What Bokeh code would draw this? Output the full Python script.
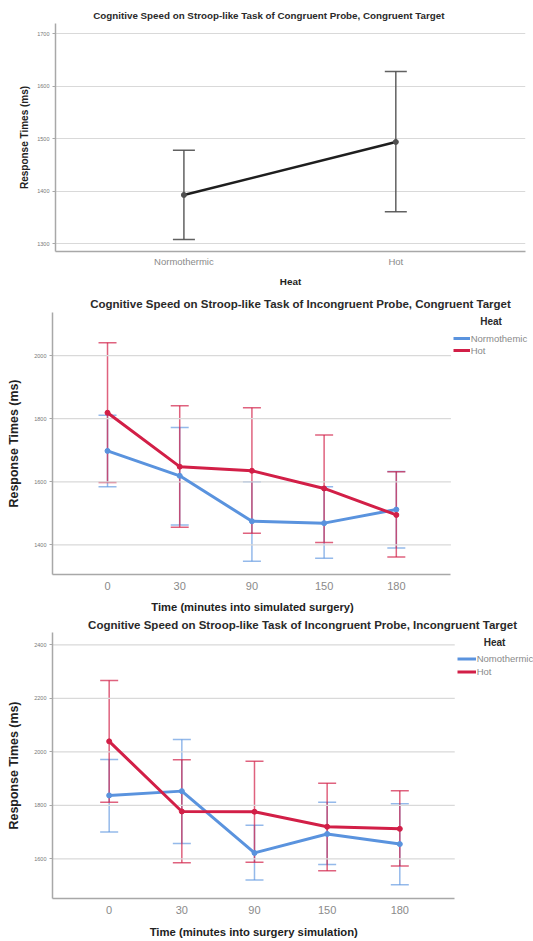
from bokeh.plotting import figure
from bokeh.models import (ColumnDataSource, Whisker, TeeHead, Label, Legend,
                          LegendItem, FixedTicker, Range1d)
from bokeh.embed import file_html
from bokeh.resources import INLINE

# ---- data -------------------------------------------------------------
heat_groups = ["Normothermic", "Hot"]
cc_mean = [1393, 1494]
cc_lower = [1308, 1361]
cc_upper = [1478, 1628]

time_points = ["0", "30", "90", "150", "180"]

# incongruent probe, congruent target
icn_norm_mean = [1698, 1619, 1475, 1469, 1512]
icn_norm_lower = [1584, 1463, 1348, 1358, 1390]
icn_norm_upper = [1811, 1772, 1600, 1584, 1633]
icn_hot_mean = [1819, 1648, 1635, 1579, 1495]
icn_hot_lower = [1598, 1456, 1437, 1408, 1362]
icn_hot_upper = [2041, 1841, 1835, 1748, 1632]

# incongruent probe, incongruent target
ii_norm_mean = [1837, 1853, 1622, 1693, 1655]
ii_norm_lower = [1700, 1657, 1521, 1579, 1503]
ii_norm_upper = [1971, 2046, 1725, 1811, 1806]
ii_hot_mean = [2039, 1777, 1776, 1720, 1712]
ii_hot_lower = [1811, 1585, 1587, 1555, 1573]
ii_hot_upper = [2267, 1970, 1965, 1882, 1854]

FONT = "Liberation Sans"
BLUE = "#5a93de"
RED = "#d21f47"
GRID = "#d9d9d9"
AXIS = "#a8a8a8"
NBSP = "\u00a0"


def base_figure(height, borders, x_range, x_axis_end, y_range, y_ticks,
                x_labels, title, title_size, title_offset, title_standoff,
                title_valign, x_title, tick_font, x_label_standoff,
                x_axis_standoff, label_size, y_axis_standoff):
    top, right, bottom, left = borders
    p = figure(width=533, height=height, output_backend="svg",
               toolbar_location=None, x_range=Range1d(*x_range),
               y_range=Range1d(*y_range), min_border_top=top,
               min_border_right=right, min_border_bottom=bottom,
               min_border_left=left)
    p.outline_line_color = None
    p.background_fill_color = "white"
    p.border_fill_color = "white"

    p.title.text = title
    p.title.align = "left"
    p.title.vertical_align = title_valign
    p.title.offset = title_offset
    p.title.standoff = title_standoff
    p.title.text_font = FONT
    p.title.text_font_size = title_size
    p.title.text_font_style = "bold"
    p.title.text_color = "#2a2a2a"

    p.xgrid.grid_line_color = None
    if x_axis_end is None:
        p.ygrid.grid_line_color = GRID
        p.ygrid.grid_line_width = 1.2
    else:
        # the frame reaches the right edge to hold the legend, so the
        # horizontal guides and the x axis stop at the last time point area
        p.ygrid.grid_line_color = None
        n = len(y_ticks)
        p.segment(x0=[x_range[0]] * n, x1=[x_axis_end] * n, y0=y_ticks,
                  y1=y_ticks, line_color=GRID, line_width=1.2)
        p.xaxis.bounds = (x_range[0], x_axis_end)

    p.xaxis.ticker = FixedTicker(ticks=list(range(len(x_labels))))
    p.xaxis.major_label_overrides = {i: t for i, t in enumerate(x_labels)}
    p.xaxis.major_tick_out = 0
    p.xaxis.major_tick_in = 0
    p.xaxis.minor_tick_line_color = None
    p.xaxis.axis_line_color = AXIS
    p.xaxis.axis_line_width = 1.5
    p.xaxis.major_label_text_font = FONT
    p.xaxis.major_label_text_font_size = tick_font
    p.xaxis.major_label_text_color = "#8a8a8a"
    p.xaxis.major_label_standoff = x_label_standoff
    p.xaxis.axis_label = x_title
    p.xaxis.axis_label_text_font = FONT
    p.xaxis.axis_label_text_font_style = "bold"
    p.xaxis.axis_label_text_font_size = label_size[0]
    p.xaxis.axis_label_text_color = "#222222"
    p.xaxis.axis_label_standoff = x_axis_standoff

    p.yaxis.ticker = FixedTicker(ticks=y_ticks)
    p.yaxis.major_tick_out = 3
    p.yaxis.major_tick_in = 0
    p.yaxis.major_tick_line_color = AXIS
    p.yaxis.minor_tick_line_color = None
    p.yaxis.axis_line_color = AXIS
    p.yaxis.axis_line_width = 1.5
    p.yaxis.major_label_text_font = FONT
    p.yaxis.major_label_text_font_size = "5.5px"
    p.yaxis.major_label_text_color = "#777777"
    p.yaxis.major_label_standoff = 3
    p.yaxis.axis_label = "Response Times (ms)"
    p.yaxis.axis_label_text_font = FONT
    p.yaxis.axis_label_text_font_style = "bold"
    p.yaxis.axis_label_text_font_size = label_size[1]
    p.yaxis.axis_label_text_color = "#222222"
    p.yaxis.axis_label_standoff = y_axis_standoff
    return p


def add_series(p, means, lower, upper, color, cap, line_width, alpha):
    src = ColumnDataSource(dict(x=list(range(len(means))), m=means,
                                lo=lower, hi=upper))
    p.add_layout(Whisker(source=src, base="x", lower="lo", upper="hi",
                         dimension="height", line_color=color,
                         line_alpha=alpha, line_width=1.5,
                         upper_head=TeeHead(size=cap, line_color=color,
                                            line_alpha=alpha, line_width=1.5),
                         lower_head=TeeHead(size=cap, line_color=color,
                                            line_alpha=alpha, line_width=1.5)))
    r = p.line("x", "m", source=src, line_color=color, line_width=line_width)
    p.scatter("x", "m", source=src, size=5, fill_color=color,
              line_color=color)
    return r


def add_legend(p, renderers, names, head_xy, items_xy, glyph_w, row_h):
    p.add_layout(Label(x=head_xy[0], y=head_xy[1], x_units="screen",
                       y_units="screen", text="Heat", text_align="center",
                       text_baseline="middle", text_font=FONT,
                       text_font_style="bold", text_font_size="10px",
                       text_color="#2a2a2a"))
    leg = Legend(items=[LegendItem(label=n, renderers=[r])
                        for n, r in zip(names, renderers)],
                 location=items_xy, orientation="vertical",
                 glyph_width=glyph_w, glyph_height=row_h,
                 label_height=row_h, label_standoff=1, spacing=0,
                 padding=0, margin=0, border_line_color=None,
                 background_fill_alpha=0, label_text_font=FONT,
                 label_text_font_size="9.5px", label_text_color="#8a8a8a")
    p.add_layout(leg)


# ---- congruent probe, congruent target --------------------------------
p1 = base_figure(290, (23, 8, 39, 55), (-0.606, 1.612), None,
                 (1285.3, 1719.6), [1300, 1400, 1500, 1600, 1700],
                 heat_groups,
                 "Cognitive Speed on Stroop-like Task of Congruent Probe, "
                 "Congruent Target", "9.8px", 37.7, 6, "bottom",
                 "Heat", "9.5px", 4, 6, ("9.9px", "10px"), 4)
add_series(p1, cc_mean, cc_lower, cc_upper, "#505050", 22, 2.5, 0.9)
p1.renderers[-2].glyph.line_color = "#1e1e1e"

# ---- incongruent probe, congruent target -----------------------------
# trailing no-break spaces keep the axis title centred under the axis
p2 = base_figure(325, (22, 0, 40, 52), (-0.762, 5.900), 4.756,
                 (1306.2, 2136.7), [1400, 1600, 1800, 2000], time_points,
                 "Cognitive Speed on Stroop-like Task of Incongruent Probe, "
                 "Congruent Target", "11.5px", 37.7, 5, "bottom",
                 "Time (minutes into simulated surgery)" + NBSP * 26,
                 "11px", 7, 8, ("11.2px", "12.4px"), 10)
r2n = add_series(p2, icn_norm_mean, icn_norm_lower, icn_norm_upper, BLUE,
                 18, 3, 0.65)
r2h = add_series(p2, icn_hot_mean, icn_hot_lower, icn_hot_upper, RED,
                 18, 3, 0.7)
add_legend(p2, [r2n, r2h], ["Normothemic", "Hot"], (438.5, 253),
           (400.7, 218), 17, 12)

# ---- incongruent probe, incongruent target ---------------------------
p3 = base_figure(326, (17, 0, 43, 52), (-0.780, 5.840), 4.756,
                 (1451.6, 2446), [1600, 1800, 2000, 2200, 2400], time_points,
                 "Cognitive Speed on Stroop-like Task of Incongruent Probe, "
                 "Incongruent Target", "11.5px", 35.6, 0, "top",
                 "Time (minutes into surgery simulation)" + NBSP * 25,
                 "11px", 7, 9, ("11.3px", "12.4px"), 10)
r3n = add_series(p3, ii_norm_mean, ii_norm_lower, ii_norm_upper, BLUE,
                 18, 3, 0.65)
r3h = add_series(p3, ii_hot_mean, ii_hot_lower, ii_hot_upper, RED,
                 18, 3, 0.7)
add_legend(p3, [r3n, r3h], ["Nomothermic", "Hot"], (442, 256),
           (404.7, 219.6), 19, 13)

# three stacked roots, each keeping its own plotting area
open("out.html", "w").write(file_html([p1, p2, p3], INLINE))
